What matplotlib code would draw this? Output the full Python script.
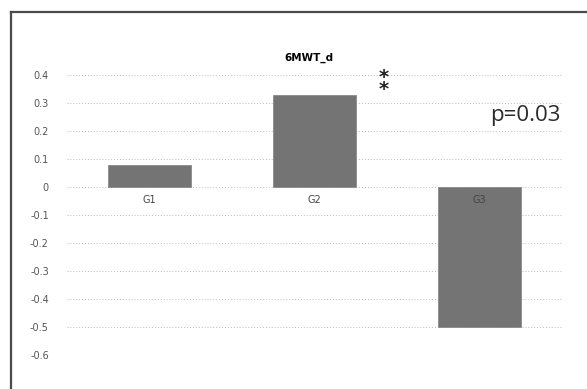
import numpy as np
import matplotlib.pyplot as plt
from matplotlib.lines import Line2D

groups = ['G1', 'G2', 'G3']
values = [0.08, 0.33, -0.50]
yticks = [0.4, 0.3, 0.2, 0.1, 0, -0.1, -0.2, -0.3, -0.4, -0.5, -0.6]
ytick_labels = ['0.4', '0.3', '0.2', '0.1', '0', '-0.1', '-0.2', '-0.3', '-0.4', '-0.5', '-0.6']
title = '6MWT_d'
pval = 'p=0.03'

fig = plt.figure(figsize=(5.87, 3.89), dpi=100)
ax = fig.add_axes([0.114, 0.0874, 0.843, 0.7196])

x = np.arange(len(groups))
ax.bar(x, values, width=0.5, color='#747474', edgecolor='#8a8a8a', linewidth=0.6, zorder=2)

# category names sit right under the zero line, like a spreadsheet chart
for xi, g in zip(x, groups):
    ax.annotate(g, (xi, 0), xytext=(0, -9), textcoords='offset points',
                ha='center', va='center', fontsize=7, color='#444444', zorder=3)

ax.set_xlim(-0.5, 2.5)
ax.set_ylim(-0.6, 0.4)
ax.set_yticks(yticks)
ax.set_yticklabels(ytick_labels, fontsize=7, color='#555555')
ax.set_xticks([])
ax.tick_params(axis='y', length=0, pad=13)
ax.yaxis.grid(True, linestyle=(0, (1, 2)), color='#bbbbbb', linewidth=0.7, zorder=0)
for s in ax.spines.values():
    s.set_visible(False)

ax.set_title(title, fontsize=7.5, fontweight='bold', pad=10, x=0.49)

# significance marks between G2 and G3
ax.text(1.42, 0.37, '*\n*', fontsize=14, fontweight='bold', ha='center', va='center',
        linespacing=0.55, color='#222222')
ax.text(2.49, 0.255, pval, fontsize=16, ha='right', va='center', color='#2a2a2a',
        family='Open Sans')

# outer frame, top and left edges
fig.add_artist(Line2D([0.018, 1.0], [0.968, 0.968], transform=fig.transFigure,
                      color='#4a4a4a', linewidth=1.6))
fig.add_artist(Line2D([0.018, 0.018], [0.0, 0.968], transform=fig.transFigure,
                      color='#4a4a4a', linewidth=1.6))

fig.savefig('out.png', dpi=100, facecolor='white')
